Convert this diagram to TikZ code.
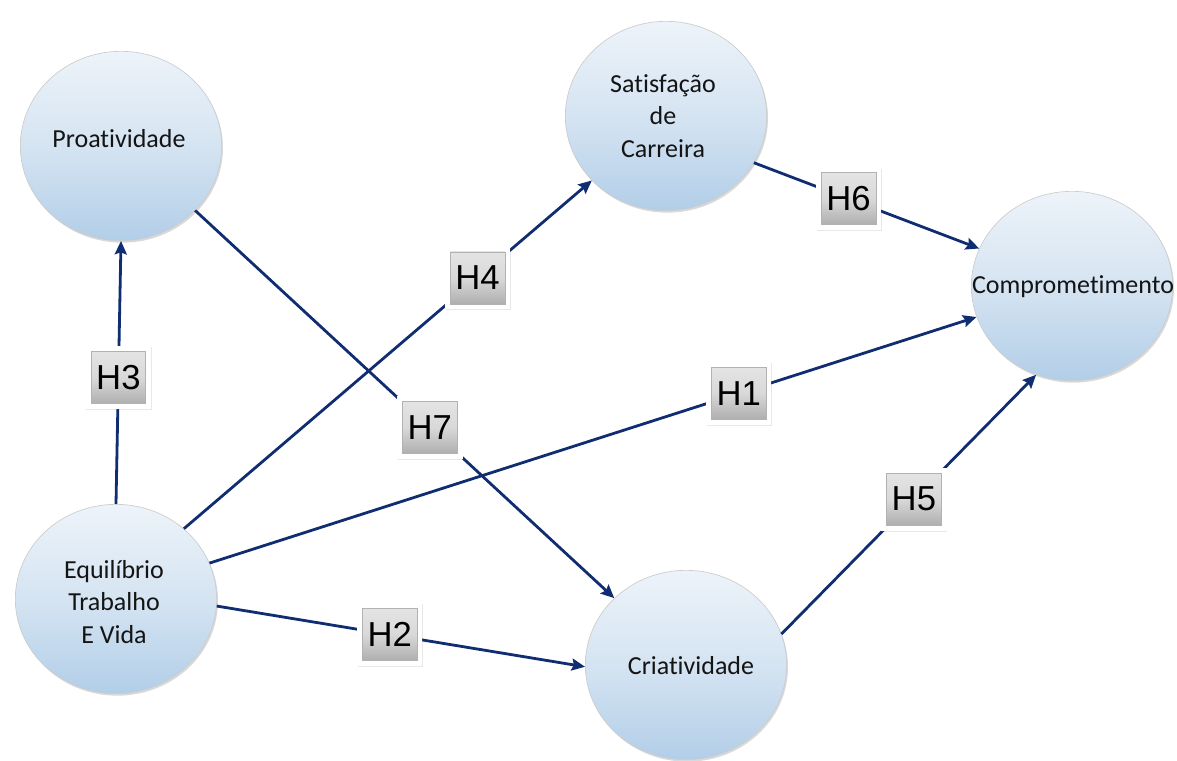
\documentclass[tikz,border=0pt]{standalone}
\usepackage{fontspec}
\setmainfont{Carlito}[Ligatures={NoCommon}]
\newfontfamily\hfont{Liberation Sans}
\usetikzlibrary{shapes.geometric,arrows.meta,shadows}
\definecolor{navy}{HTML}{0F2D70}
\definecolor{btop}{HTML}{EDF3F9}
\definecolor{bmid}{HTML}{D5E4F2}
\definecolor{bbot}{HTML}{B2CEE8}
\definecolor{gtop}{HTML}{E6E6E6}
\definecolor{gbot}{HTML}{A6A6A6}
\definecolor{txt}{HTML}{141414}
\begin{document}
\begin{tikzpicture}[x=0.75pt,y=-0.75pt,
  bub/.style={ellipse, minimum width=151pt, minimum height=142pt, inner sep=0pt,
    top color=btop, bottom color=bbot, middle color=bmid, draw=gray!40, line width=0.5pt,
    drop shadow={opacity=0.3, shadow xshift=1pt, shadow yshift=-1.5pt}},
  btxt/.style={font=\fontsize{19.5}{24.5}\selectfont, text=txt, align=center, inner sep=0pt},
  hl/.style={rectangle, fill=white, minimum width=49pt, minimum height=47pt, inner sep=0pt,
    font=\hfont\fontsize{26}{26}\selectfont, text=black,
    drop shadow={opacity=0.18, shadow xshift=0.5pt, shadow yshift=-0.8pt},
    path picture={\shade[top color=gtop, bottom color=gbot, middle color=gray!30, draw=gray!60, line width=0.5pt]
      ([shift={(4pt,-4pt)}]path picture bounding box.north west) rectangle
      ([shift={(-4pt,4pt)}]path picture bounding box.south east);}},
  conn/.style={draw=navy, line width=2.1pt, -{Stealth[length=10pt, width=9pt, inset=1.5pt]}}
]
\useasboundingbox (0,0) rectangle (1177,760);

\node[bub] (pro) at (121,146) {};
\node[bub] (sat) at (666,116) {};
\node[bub] (com) at (1072,286) {};
\node[bub] (eq)  at (116,599) {};
\node[bub] (cri) at (686,665) {};

\node[btxt] (protx) at (119,139) {Proatividade};
\node[btxt] (sattx) at (663,116) {Satisfação\\de\\Carreira};
\node[btxt] (comtx) at (1073,287) {Comprometimento};
\node[btxt] (eqtx)  at (114,602) {Equilíbrio\\Trabalho\\E Vida};
\node[btxt] (critx) at (691,666) {Criatividade};

\draw[conn] (eq.90)  -- node[hl, pos=0.48] (h3) {H3} (pro.270);
\draw[conn] (eq.46)  -- node[hl, pos=0.72] (h4) {H4} (sat.221);
\draw[conn] (pro.-41) -- node[hl, pos=0.56] (h7) {H7} (cri.137);
\draw[conn] (eq.21)  -- node[hl, pos=0.69] (h1) {H1} (com.198);
\draw[conn] (eq.-4)  -- node[hl, pos=0.47] (h2) {H2} (cri.181);
\draw[conn] (sat.-28) -- node[hl, pos=0.42] (h6) {H6} (com.158);
\draw[conn] (cri.18) -- node[hl, pos=0.52] (h5) {H5} (com.248);
\end{tikzpicture}
\end{document}
